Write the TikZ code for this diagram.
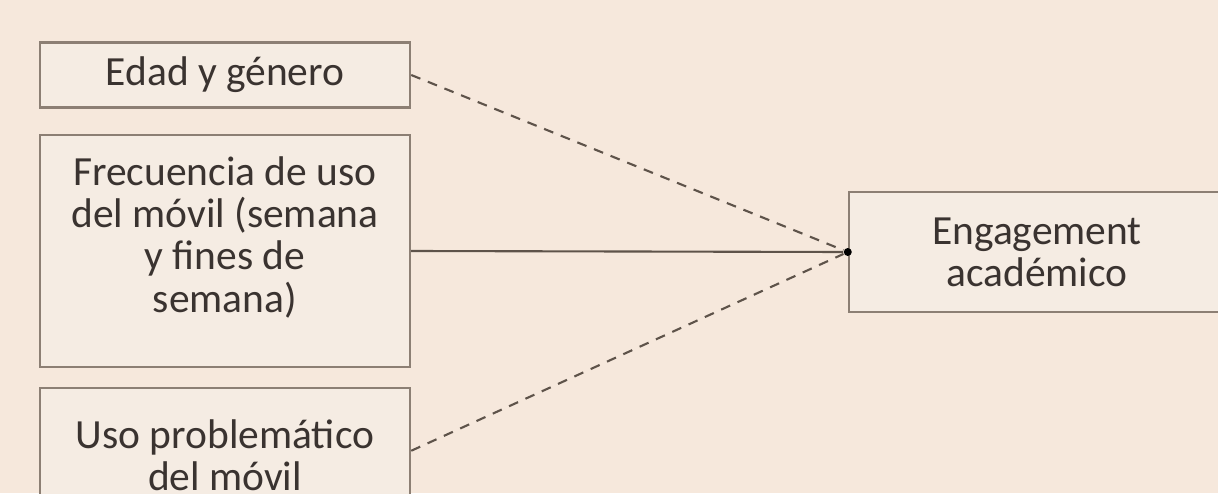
\documentclass[tikz,border=0pt]{standalone}
\usepackage{fontspec}
\setmainfont{Carlito}
\usepackage{tikz}
\usetikzlibrary{calc}

\definecolor{fondo}{HTML}{F6E8DC}
\definecolor{caja}{HTML}{F5ECE3}
\definecolor{borde}{HTML}{8C7F74}
\definecolor{linea}{HTML}{5E534A}
\definecolor{texto}{HTML}{3A3330}

\begin{document}
\begin{tikzpicture}[
  var/.style={draw=borde,fill=caja,line width=0.7pt,text=texto,align=center,
    font=\fontsize{11.8}{12}\selectfont},
  flecha/.style={draw=linea,line width=0.6pt},
  discont/.style={flecha,dash pattern=on 2.8pt off 2.3pt}
]
\fill[fondo] (0,0) rectangle (12.18,4.93);
\useasboundingbox (0,0) rectangle (12.18,4.93);

\node[var,minimum width=3.7cm,minimum height=0.65cm] (edad) at (2.25,4.18) {Edad y género};
\node[var,minimum width=3.7cm,minimum height=2.32cm,text depth=0.33cm] (frec) at (2.25,2.42)
  {Frecuencia de uso\\del móvil (semana\\y fines de\\semana)};
\node[var,minimum width=3.7cm,minimum height=1.64cm,text depth=0.3cm] (prob) at (2.25,0.23)
  {Uso problemático\\del móvil};
\node[var,minimum width=3.76cm,minimum height=1.2cm] (eng) at (10.37,2.41)
  {Engagement\\académico};

\coordinate (p3) at ([yshift=-0.64cm]prob.north east);
\node[circle,fill=black,inner sep=0pt,minimum size=0.08cm] (punto) at (eng.west) {};

\draw[discont] (edad.east) -- (punto);
\draw[flecha] (frec.east) -- (punto);
\draw[discont] (p3) -- (punto);
\end{tikzpicture}
\end{document}
